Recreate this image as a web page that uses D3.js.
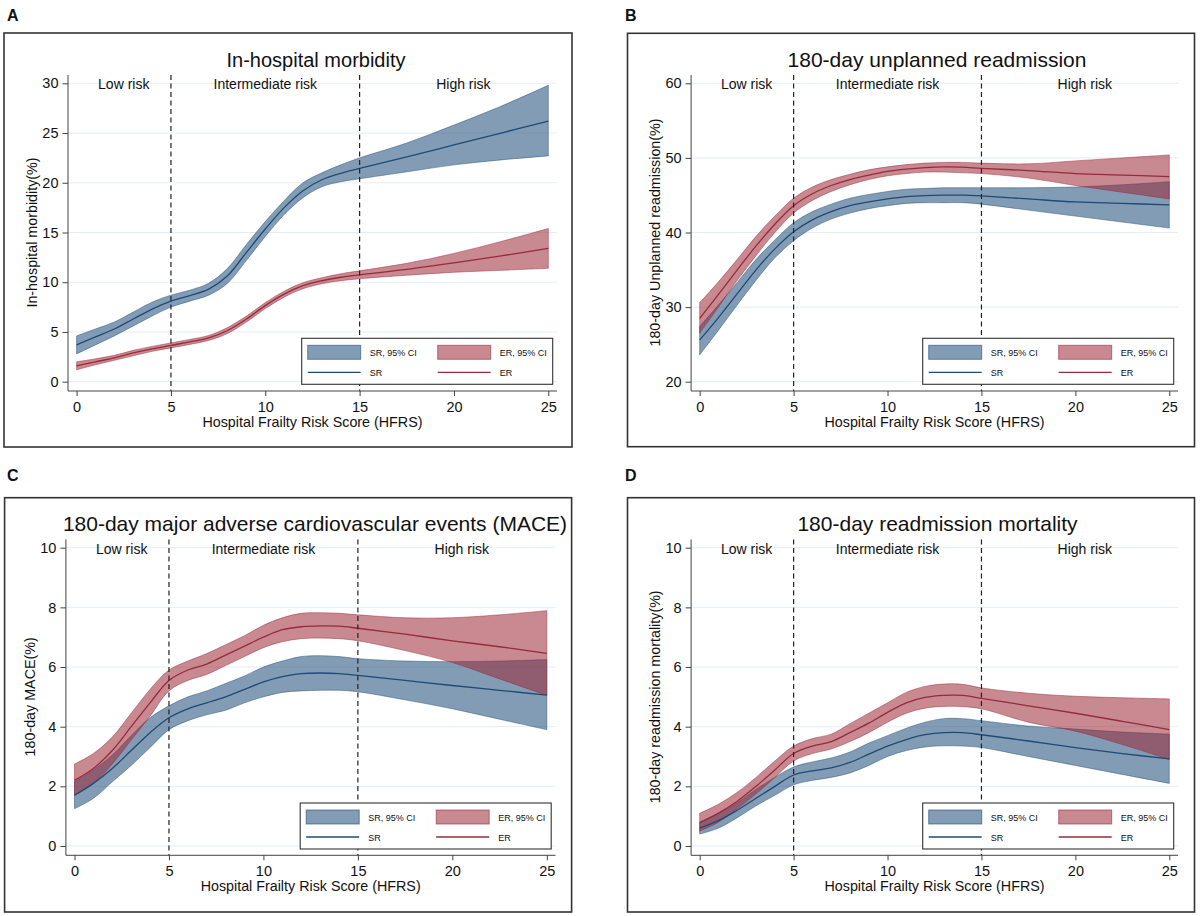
<!DOCTYPE html>
<html>
<head>
<meta charset="utf-8">
<script src="https://cdn.jsdelivr.net/npm/d3@7"></script>
<style>
  html, body { margin: 0; padding: 0; background: #fff; }
  svg { display: block; font-family: "Liberation Sans", Arial, Helvetica, sans-serif; }
</style>
</head>
<body>
<svg id="chart" width="1200" height="916"></svg>
<script>
// HFRS grid the curves were read at
const hfrs = [0, 1, 2, 3, 4, 5, 6, 7, 8, 9, 10, 11, 12, 13, 14, 15, 17.5, 20, 22.5, 25];
const xTicks = [0, 5, 10, 15, 20, 25];
const cutoffs = [5, 15];
const riskLabels = ["Low risk", "Intermediate risk", "High risk"];
const riskLabelX = [2.5, 10, 20.5];
const xTitle = "Hospital Frailty Risk Score (HFRS)";

// A - in-hospital morbidity
const morbSR   = [3.7, 4.5, 5.3, 6.3, 7.3, 8.1, 8.65, 9.3, 10.65, 13.0, 15.35, 17.5, 19.2, 20.3, 20.95, 21.45, 22.6, 23.8, 25.0, 26.2];
const morbSRlo = [2.8, 3.7, 4.6, 5.6, 6.6, 7.5, 8.1, 8.7, 9.9, 12.2, 14.6, 16.8, 18.5, 19.6, 20.1, 20.4, 21.1, 21.8, 22.3, 22.7];
const morbSRhi = [4.6, 5.3, 6.0, 7.0, 8.0, 8.7, 9.2, 9.9, 11.4, 13.8, 16.1, 18.2, 20.0, 21.0, 21.8, 22.5, 24.0, 25.8, 27.7, 29.8];
const morbER   = [1.6, 2.0, 2.4, 2.9, 3.3, 3.65, 4.0, 4.4, 5.15, 6.3, 7.65, 8.8, 9.65, 10.15, 10.5, 10.75, 11.3, 11.95, 12.65, 13.4];
const morbERlo = [1.2, 1.7, 2.15, 2.6, 3.05, 3.4, 3.75, 4.15, 4.85, 6.0, 7.35, 8.5, 9.35, 9.85, 10.15, 10.35, 10.7, 11.0, 11.2, 11.4];
const morbERhi = [2.0, 2.3, 2.65, 3.15, 3.55, 3.9, 4.25, 4.65, 5.45, 6.6, 7.95, 9.1, 9.95, 10.45, 10.85, 11.15, 11.9, 12.9, 14.1, 15.4];

// B - 180-day unplanned readmission
const readmSR   = [25.6, 28.6, 31.8, 35.0, 37.8, 40.1, 41.7, 42.8, 43.6, 44.1, 44.5, 44.8, 44.95, 45.0, 45.0, 44.9, 44.5, 44.1, 43.9, 43.7];
const readmSRlo = [23.6, 26.9, 30.3, 33.6, 36.6, 38.9, 40.6, 41.8, 42.6, 43.2, 43.6, 43.9, 44.0, 44.0, 44.0, 43.8, 43.0, 42.2, 41.4, 40.6];
const readmSRhi = [27.4, 30.3, 33.3, 36.4, 39.0, 41.3, 42.8, 43.8, 44.6, 45.1, 45.5, 45.8, 45.9, 46.0, 46.0, 46.0, 46.0, 46.1, 46.4, 46.8];
const readmER   = [28.5, 31.7, 35.0, 38.2, 41.1, 43.6, 45.2, 46.3, 47.1, 47.7, 48.2, 48.5, 48.7, 48.8, 48.75, 48.6, 48.3, 47.9, 47.7, 47.5];
const readmERlo = [26.5, 30.0, 33.6, 36.9, 40.0, 42.6, 44.3, 45.5, 46.4, 47.1, 47.6, 47.9, 48.1, 48.1, 48.0, 47.9, 47.3, 46.3, 45.4, 44.5];
const readmERhi = [30.6, 33.4, 36.4, 39.5, 42.2, 44.6, 46.1, 47.1, 47.8, 48.4, 48.8, 49.1, 49.3, 49.4, 49.4, 49.3, 49.2, 49.6, 50.0, 50.4];

// C - 180-day MACE
const maceSR   = [1.7, 2.1, 2.6, 3.2, 3.8, 4.3, 4.6, 4.8, 5.0, 5.25, 5.5, 5.68, 5.78, 5.8, 5.78, 5.72, 5.55, 5.38, 5.22, 5.06];
const maceSRlo = [1.25, 1.6, 2.15, 2.7, 3.3, 3.9, 4.2, 4.4, 4.55, 4.8, 5.0, 5.15, 5.2, 5.22, 5.22, 5.17, 4.9, 4.6, 4.25, 3.9];
const maceSRhi = [2.15, 2.55, 3.05, 3.7, 4.3, 4.7, 5.0, 5.2, 5.45, 5.7, 6.0, 6.2, 6.35, 6.38, 6.35, 6.28, 6.2, 6.18, 6.2, 6.25];
const maceER   = [2.2, 2.6, 3.2, 4.0, 4.8, 5.55, 5.9, 6.1, 6.4, 6.7, 7.0, 7.25, 7.35, 7.38, 7.37, 7.3, 7.1, 6.88, 6.68, 6.46];
const maceERlo = [1.7, 2.1, 2.75, 3.55, 4.35, 5.2, 5.55, 5.75, 6.05, 6.35, 6.65, 6.85, 6.95, 6.97, 6.95, 6.88, 6.55, 6.15, 5.6, 5.05];
const maceERhi = [2.75, 3.1, 3.65, 4.45, 5.25, 5.9, 6.2, 6.45, 6.75, 7.05, 7.4, 7.65, 7.8, 7.82, 7.8, 7.75, 7.65, 7.65, 7.75, 7.89];

// D - 180-day readmission mortality
const mortSR   = [0.6, 0.85, 1.2, 1.6, 2.0, 2.38, 2.52, 2.62, 2.8, 3.08, 3.35, 3.57, 3.73, 3.8, 3.8, 3.73, 3.52, 3.3, 3.1, 2.92];
const mortSRlo = [0.4, 0.6, 0.95, 1.35, 1.7, 2.05, 2.2, 2.3, 2.45, 2.7, 3.0, 3.2, 3.32, 3.36, 3.35, 3.3, 3.0, 2.7, 2.4, 2.1];
const mortSRhi = [0.8, 1.1, 1.45, 1.9, 2.3, 2.65, 2.82, 2.95, 3.15, 3.45, 3.7, 3.95, 4.15, 4.27, 4.27, 4.2, 4.02, 3.92, 3.82, 3.75];
const mortER   = [0.78, 1.1, 1.5, 2.0, 2.55, 3.1, 3.35, 3.5, 3.8, 4.12, 4.48, 4.8, 4.98, 5.05, 5.05, 4.95, 4.7, 4.45, 4.18, 3.9];
const mortERlo = [0.5, 0.8, 1.25, 1.75, 2.3, 2.85, 3.1, 3.25, 3.5, 3.8, 4.15, 4.45, 4.62, 4.68, 4.67, 4.6, 4.15, 3.85, 3.4, 2.9];
const mortERhi = [1.1, 1.4, 1.8, 2.3, 2.85, 3.35, 3.6, 3.75, 4.1, 4.45, 4.8, 5.15, 5.35, 5.43, 5.42, 5.3, 5.12, 5.02, 4.97, 4.93];

const legendLabels = ["SR, 95% CI", "ER, 95% CI", "SR", "ER"];

// colours
const srColor = "#1e4b78";
const erColor = "#9b2837";
const srLine = "#1f4a75";
const erLine = "#992a3a";

// layout for each panel (box = outer frame, x0/x1 = pixel of HFRS 0/25, yT/yB = pixel of top/bottom tick)
const panels = [
  { letter: "A", lx: 7, ly: 21, box: [4, 33, 568, 414], x0: 76.6, x1: 548.3, yT: 83.3, yB: 381.7,
    yDomain: [0, 30], yTicks: [0, 5, 10, 15, 20, 25, 30], title: "In-hospital morbidity", titleX: 316, titleY: 67, titleSize: 20,
    yTitle: "In-hospital morbidity(%)", legY: 338.3,
    sr: [morbSR, morbSRlo, morbSRhi], er: [morbER, morbERlo, morbERhi] },
  { letter: "B", lx: 625, ly: 21, box: [627.5, 33.3, 567, 413.4], x0: 699.7, x1: 1169.3, yT: 83.3, yB: 381.7,
    yDomain: [20, 60], yTicks: [20, 30, 40, 50, 60], title: "180-day unplanned readmission", titleX: 937, titleY: 67, titleSize: 21,
    yTitle: "180-day Unplanned readmission(%)", legY: 338.3,
    sr: [readmSR, readmSRlo, readmSRhi], er: [readmER, readmERlo, readmERhi] },
  { letter: "C", lx: 7, ly: 481, box: [4.6, 497.7, 567, 414.3], x0: 74.5, x1: 546.8, yT: 547.7, yB: 846,
    yDomain: [0, 10], yTicks: [0, 2, 4, 6, 8, 10], title: "180-day major adverse cardiovascular events (MACE)", titleX: 315, titleY: 531, titleSize: 21,
    yTitle: "180-day MACE(%)", legY: 803,
    sr: [maceSR, maceSRlo, maceSRhi], er: [maceER, maceERlo, maceERhi] },
  { letter: "D", lx: 625, ly: 481, box: [627.5, 497.7, 567, 414.3], x0: 699.7, x1: 1169.3, yT: 547.7, yB: 846,
    yDomain: [0, 10], yTicks: [0, 2, 4, 6, 8, 10], title: "180-day readmission mortality", titleX: 937.5, titleY: 531, titleSize: 21,
    yTitle: "180-day readmission mortality(%)", legY: 803,
    sr: [mortSR, mortSRlo, mortSRhi], er: [mortER, mortERlo, mortERhi] }
];

const svg = d3.select("#chart");
svg.append("rect").attr("width", 1200).attr("height", 916).attr("fill", "#fff");

panels.forEach(p => drawPanel(p));

function drawPanel(p) {
  const g = svg.append("g");
  const x = d3.scaleLinear().domain([0, 25]).range([p.x0, p.x1]);
  const y = d3.scaleLinear().domain(p.yDomain).range([p.yB, p.yT]);

  // plot region edges (Stata leaves a margin round the data)
  const left = p.x0 - 8.6, right = p.x1 + 8.7;
  const top = p.yT - 8.3, bottom = p.yB + 9.3;

  // frame + letter
  g.append("rect").attr("x", p.box[0]).attr("y", p.box[1]).attr("width", p.box[2]).attr("height", p.box[3])
    .attr("fill", "#fff").attr("stroke", "#333").attr("stroke-width", 1.6);
  g.append("text").attr("x", p.lx).attr("y", p.ly).text(p.letter)
    .attr("font-size", 16).attr("font-weight", "bold").attr("fill", "#111");

  // title
  g.append("text").attr("x", p.titleX).attr("y", p.titleY).attr("text-anchor", "middle")
    .attr("font-size", p.titleSize).attr("fill", "#111").text(p.title);

  // gridlines
  g.append("g").selectAll("line").data(p.yTicks).join("line")
    .attr("x1", left).attr("x2", right)
    .attr("y1", d => y(d)).attr("y2", d => y(d))
    .attr("stroke", "#e6edf2").attr("stroke-width", 1);

  // CI bands and fitted lines
  const curve = d3.curveCatmullRom.alpha(0.5);
  const band = d3.area().x(d => x(d.x)).y0(d => y(d.lo)).y1(d => y(d.hi)).curve(curve);
  const line = d3.line().x(d => x(d.x)).y(d => y(d.v)).curve(curve);
  const rows = s => hfrs.map((h, i) => ({ x: h, v: s[0][i], lo: s[1][i], hi: s[2][i] }));

  [[p.sr, srColor], [p.er, erColor]].forEach(([s, c]) => {
    g.append("path").datum(rows(s)).attr("d", band)
      .attr("fill", c).attr("fill-opacity", 0.55)
      .attr("stroke", c).attr("stroke-opacity", 0.6).attr("stroke-width", 0.8);
  });
  [[p.sr, srLine], [p.er, erLine]].forEach(([s, c]) => {
    g.append("path").datum(rows(s)).attr("d", line)
      .attr("fill", "none").attr("stroke", c).attr("stroke-width", 1.3);
  });

  // dashed cut-offs
  g.append("g").selectAll("line").data(cutoffs).join("line")
    .attr("x1", d => x(d)).attr("x2", d => x(d))
    .attr("y1", top).attr("y2", bottom)
    .attr("stroke", "#222").attr("stroke-width", 1.2).attr("stroke-dasharray", "5,3.5");

  // risk labels
  g.append("g").selectAll("text").data(riskLabels).join("text")
    .attr("x", (d, i) => x(riskLabelX[i])).attr("y", p.yT + 6)
    .attr("text-anchor", "middle").attr("font-size", 14).attr("fill", "#111").text(d => d);

  // axes
  const yAxis = g.append("g").attr("transform", `translate(${left},0)`)
    .call(d3.axisLeft(y).tickValues(p.yTicks).tickSize(5.5).tickPadding(4).tickFormat(d3.format("d")));
  const xAxis = g.append("g").attr("transform", `translate(0,${bottom})`)
    .call(d3.axisBottom(x).tickValues(xTicks).tickSize(5).tickPadding(5.5).tickFormat(d3.format("d")));
  [yAxis, xAxis].forEach(a => {
    a.select(".domain").remove();
    a.selectAll(".tick line").attr("stroke", "#444");
    a.selectAll(".tick text").attr("font-size", 14.5).attr("fill", "#111")
      .attr("font-family", "Liberation Sans, Arial, sans-serif");
  });
  g.append("line").attr("x1", left).attr("x2", left).attr("y1", top).attr("y2", bottom)
    .attr("stroke", "#444").attr("stroke-width", 1);
  g.append("line").attr("x1", left).attr("x2", right).attr("y1", bottom).attr("y2", bottom)
    .attr("stroke", "#444").attr("stroke-width", 1);

  // axis titles
  g.append("text").attr("x", (p.x0 + p.x1) / 2).attr("y", p.yB + 45)
    .attr("text-anchor", "middle").attr("font-size", 14.3).attr("fill", "#111").text(xTitle);
  g.append("text")
    .attr("transform", `translate(${left - 31},${(p.yT + p.yB) / 2}) rotate(-90)`)
    .attr("text-anchor", "middle").attr("font-size", 14.3).attr("fill", "#111").text(p.yTitle);

  // legend
  const lw = 251, lh = 46;
  const lx = p.x1 + 4.4 - lw, ly = p.legY;
  const leg = g.append("g").attr("transform", `translate(${lx},${ly})`);
  leg.append("rect").attr("width", lw).attr("height", lh)
    .attr("fill", "#fff").attr("stroke", "#333").attr("stroke-width", 1.1);
  const cols = [6, 136];
  [srColor, erColor].forEach((c, i) => {
    leg.append("rect").attr("x", cols[i]).attr("y", 7).attr("width", 53).attr("height", 14)
      .attr("fill", c).attr("fill-opacity", 0.55).attr("stroke", c).attr("stroke-opacity", 0.6);
    leg.append("text").attr("x", cols[i] + 62).attr("y", 17.5).attr("font-size", 9).attr("fill", "#111")
      .text(legendLabels[i]);
  });
  [srLine, erLine].forEach((c, i) => {
    leg.append("line").attr("x1", cols[i]).attr("x2", cols[i] + 53).attr("y1", 34).attr("y2", 34)
      .attr("stroke", c).attr("stroke-width", 1.3);
    leg.append("text").attr("x", cols[i] + 62).attr("y", 37.5).attr("font-size", 9).attr("fill", "#111")
      .text(legendLabels[i + 2]);
  });
}
</script>
</body>
</html>
